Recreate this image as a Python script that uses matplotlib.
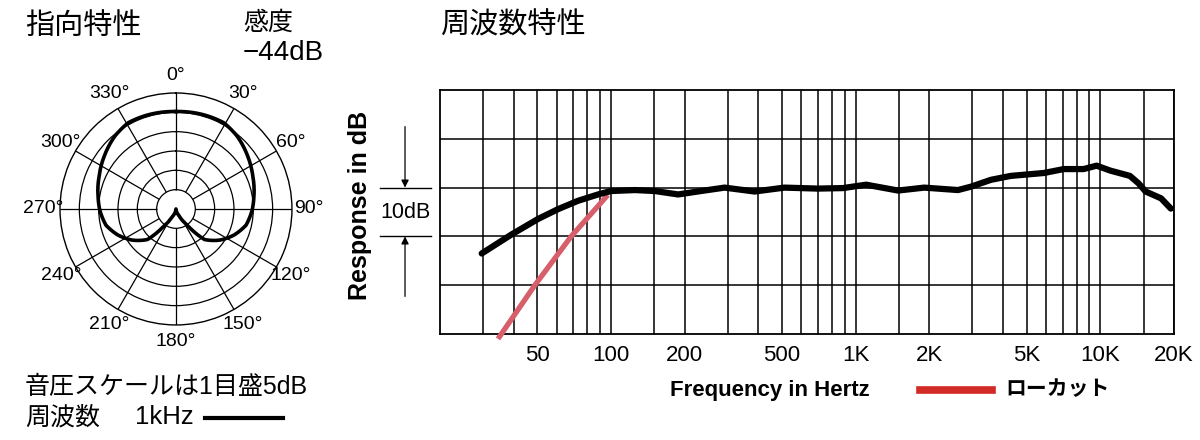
import numpy as np
import matplotlib
matplotlib.use("Agg")
import matplotlib.pyplot as plt
from matplotlib.lines import Line2D
from matplotlib.transforms import blended_transform_factory
from matplotlib.ticker import NullFormatter, FixedLocator

plt.rcParams['font.family'] = ['Liberation Sans', 'Noto Sans CJK JP']

# ---------------- data ----------------
# polar pattern (right half, mirrored): angle in degrees, level in dB
polar_angles_deg = [0, 17, 29, 40, 54, 67, 81, 91, 103, 114, 125, 137, 145, 155, 170, 180]
polar_level_db = [-4.8, -4.6, -4.5, -5.4, -7.0, -8.4, -9.6, -10.3, -11.4, -13.5,
                  -16.0, -19.2, -24.8, -27.9, -29.5, -30.0]
polar_ring_db = [-25, -20, -15, -10, -5]
polar_tick_deg = [0, 30, 60, 90, 120, 150, 180, 210, 240, 270, 300, 330]

# frequency response
freq_hz = [29.6, 39.2, 50.4, 60.8, 73.3, 88.5, 100, 125, 151, 188, 233, 291, 386,
           511, 700, 885, 1103, 1489, 1905, 2617, 2960, 3570, 4300, 5880, 7080,
           8530, 9650, 10950, 13200, 14300, 15300, 17700, 19400]
response_db = [-13.5, -9.6, -6.4, -4.4, -2.7, -1.4, -0.7, -0.5, -0.7, -1.4, -0.7,
               0.0, -0.8, 0.0, -0.2, -0.1, 0.6, -0.6, 0.0, -0.5, 0.2, 1.6, 2.4,
               3.0, 3.8, 3.8, 4.5, 3.5, 2.4, 0.9, -0.8, -2.2, -4.3]
lowcut_hz = [34.5, 48.8, 68.7, 97]
lowcut_db = [-31.0, -20.0, -10.0, -1.5]

freq_grid_hz = [30, 40, 60, 70, 80, 90, 150, 300, 400, 600, 700, 800, 900,
                1500, 3000, 4000, 6000, 7000, 8000, 9000, 15000]
freq_tick_hz = [50, 100, 200, 500, 1000, 2000, 5000, 10000, 20000]
freq_tick_labels = ['50', '100', '200', '500', '1K', '2K', '5K', '10K', '20K']
db_grid = [-20, -10, 0, 10]

# ---------------- figure ----------------
fig = plt.figure(figsize=(12, 4.4), dpi=100)

# ---- polar plot ----
axp = fig.add_axes([0.05, 0.2614, 0.1933, 0.5273], projection='polar')
axp.set_theta_zero_location('N')
axp.set_theta_direction(-1)
axp.set_rlim(-30, 0)
axp.set_xticks([])
axp.set_yticks(polar_ring_db)
axp.set_yticklabels([])
axp.xaxis.grid(False)
axp.yaxis.grid(True, color='k', lw=0.9)
axp.spines['polar'].set_linewidth(1.0)
axp.vlines(np.deg2rad(polar_tick_deg), polar_ring_db[0], 0, color='k', lw=0.9)

full_ang = polar_angles_deg + [360 - a for a in reversed(polar_angles_deg[:-1])]
full_lev = polar_level_db + list(reversed(polar_level_db[:-1]))
ln, = axp.plot(np.deg2rad(full_ang), full_lev, color='k', lw=2.6, zorder=5,
               solid_joinstyle='round')
ln.get_path()._interpolation_steps = 40

for a in polar_tick_deg:
    axp.text(np.deg2rad(a), 4.4, f'{a}°', ha='center', va='center', fontsize=14)

# ---- frequency response ----
ax = fig.add_axes([0.3667, 0.2409, 0.6117, 0.5545])
ax.set_xscale('log')
ax.set_xlim(20, 20000)
ax.set_ylim(-30, 20)
ax.xaxis.set_major_locator(FixedLocator(freq_tick_hz))
ax.set_xticklabels(freq_tick_labels)
ax.xaxis.set_minor_locator(FixedLocator(freq_grid_hz))
ax.xaxis.set_minor_formatter(NullFormatter())
ax.set_yticks(db_grid)
ax.set_yticklabels([])
ax.tick_params(which='both', length=0)
ax.tick_params(axis='x', labelsize=16, pad=8)
ax.grid(True, which='both', color='k', lw=1.1)
for s in ax.spines.values():
    s.set_linewidth(1.3)

ax.plot(lowcut_hz, lowcut_db, color='#d65f6b', lw=3.8, solid_capstyle='butt',
        solid_joinstyle='round', zorder=3, clip_on=False)
ax.plot(freq_hz, response_db, color='k', lw=4.5, solid_capstyle='round',
        solid_joinstyle='round', zorder=4)

# 10dB annotation
trans = blended_transform_factory(ax.transAxes, ax.transData)
for yv in (0, -10):
    ax.plot([-0.0817, -0.0123], [yv, yv], transform=trans, clip_on=False, color='k', lw=1.0)
arrow_kw = dict(arrowstyle='-|>', color='k', lw=0.9, mutation_scale=11, shrinkA=0, shrinkB=0)
ax.annotate('', xy=(-0.0477, 0), xytext=(-0.0477, 12.5), xycoords=trans,
            textcoords=trans, arrowprops=arrow_kw)
ax.annotate('', xy=(-0.0477, -10), xytext=(-0.0477, -22.3), xycoords=trans,
            textcoords=trans, arrowprops=arrow_kw)
ax.text(-0.0477, -5, '10dB', transform=trans, ha='center', va='center', fontsize=15.5)

fig.text(0.3, 0.534, 'Response in dB', rotation=90, ha='center', va='center',
         fontsize=18, fontweight='bold')
fig.text(0.6417, 0.1136, 'Frequency in Hertz', ha='center', va='center',
         fontsize=16, fontweight='bold')
fig.add_artist(Line2D([920 / 1200, 992 / 1200], [0.1136, 0.1136], color='#d22b27', lw=5.5))
fig.text(1005 / 1200, 0.1136, 'ローカット', ha='left', va='center', fontsize=15,
         fontweight='bold')

# headers
fig.text(0.0208, 0.941, '指向特性', ha='left', va='center', fontsize=21)
fig.text(0.2025, 0.948, '感度', ha='left', va='center', fontsize=18)
fig.text(0.2025, 0.8795, '−44dB', ha='left', va='center', fontsize=20)
fig.text(0.3667, 0.941, '周波数特性', ha='left', va='center', fontsize=21)

# bottom left notes
fig.text(0.0208, 0.1205, '音圧スケールは1目盛5dB', ha='left', va='center', fontsize=18)
fig.text(0.0208, 0.052, '周波数', ha='left', va='center', fontsize=18)
fig.text(0.1125, 0.052, '1kHz', ha='left', va='center', fontsize=18.5)
fig.add_artist(Line2D([205 / 1200, 283 / 1200], [0.05, 0.05], color='k', lw=3))

fig.savefig('out.png', dpi=100)
